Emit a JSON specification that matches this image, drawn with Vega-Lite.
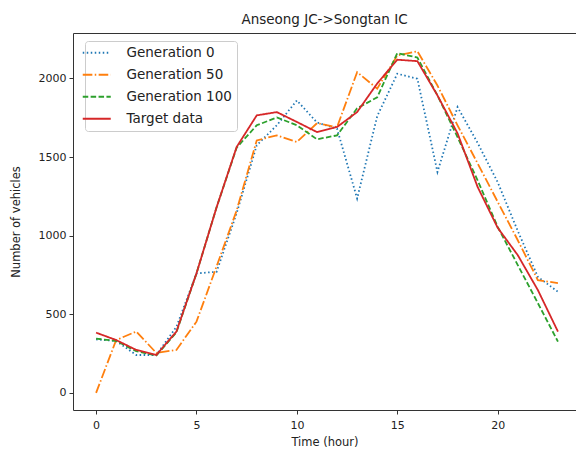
{
  "$schema": "https://vega.github.io/schema/vega-lite/v6.json",
  "width": 503,
  "height": 377,
  "autosize": {"type": "none"},
  "padding": {"left": 73, "top": 33, "right": 0, "bottom": 42},
  "background": "white",
  "config": {
    "font": "DejaVu Sans",
    "view": {"stroke": "#333", "strokeWidth": 1},
    "axis": {
      "grid": false,
      "domain": false,
      "tickColor": "#333",
      "tickSize": 4,
      "labelColor": "#222",
      "labelFontSize": 11,
      "titleColor": "#222",
      "titleFontSize": 11.5,
      "titleFontWeight": "normal"
    }
  },
  "title": {"text": "Anseong JC->Songtan IC", "fontSize": 13.5, "fontWeight": "normal", "color": "#222", "offset": 7},
  "data": {"values": [
    {"h":0,"s":"Generation 0","v":340},{"h":1,"s":"Generation 0","v":330},{"h":2,"s":"Generation 0","v":241},{"h":3,"s":"Generation 0","v":241},{"h":4,"s":"Generation 0","v":420},{"h":5,"s":"Generation 0","v":760},{"h":6,"s":"Generation 0","v":770},{"h":7,"s":"Generation 0","v":1143},{"h":8,"s":"Generation 0","v":1575},{"h":9,"s":"Generation 0","v":1702},{"h":10,"s":"Generation 0","v":1860},{"h":11,"s":"Generation 0","v":1720},{"h":12,"s":"Generation 0","v":1680},{"h":13,"s":"Generation 0","v":1236},{"h":14,"s":"Generation 0","v":1760},{"h":15,"s":"Generation 0","v":2030},{"h":16,"s":"Generation 0","v":1998},{"h":17,"s":"Generation 0","v":1405},{"h":18,"s":"Generation 0","v":1818},{"h":19,"s":"Generation 0","v":1590},{"h":20,"s":"Generation 0","v":1340},{"h":21,"s":"Generation 0","v":1030},{"h":22,"s":"Generation 0","v":738},{"h":23,"s":"Generation 0","v":643},
    {"h":0,"s":"Generation 50","v":0},{"h":1,"s":"Generation 50","v":336},{"h":2,"s":"Generation 50","v":390},{"h":3,"s":"Generation 50","v":254},{"h":4,"s":"Generation 50","v":273},{"h":5,"s":"Generation 50","v":453},{"h":6,"s":"Generation 50","v":804},{"h":7,"s":"Generation 50","v":1160},{"h":8,"s":"Generation 50","v":1606},{"h":9,"s":"Generation 50","v":1638},{"h":10,"s":"Generation 50","v":1596},{"h":11,"s":"Generation 50","v":1715},{"h":12,"s":"Generation 50","v":1690},{"h":13,"s":"Generation 50","v":2040},{"h":14,"s":"Generation 50","v":1935},{"h":15,"s":"Generation 50","v":2146},{"h":16,"s":"Generation 50","v":2173},{"h":17,"s":"Generation 50","v":1955},{"h":18,"s":"Generation 50","v":1702},{"h":19,"s":"Generation 50","v":1460},{"h":20,"s":"Generation 50","v":1215},{"h":21,"s":"Generation 50","v":971},{"h":22,"s":"Generation 50","v":717},{"h":23,"s":"Generation 50","v":698},
    {"h":0,"s":"Generation 100","v":345},{"h":1,"s":"Generation 100","v":330},{"h":2,"s":"Generation 100","v":265},{"h":3,"s":"Generation 100","v":238},{"h":4,"s":"Generation 100","v":385},{"h":5,"s":"Generation 100","v":760},{"h":6,"s":"Generation 100","v":1180},{"h":7,"s":"Generation 100","v":1560},{"h":8,"s":"Generation 100","v":1702},{"h":9,"s":"Generation 100","v":1752},{"h":10,"s":"Generation 100","v":1702},{"h":11,"s":"Generation 100","v":1613},{"h":12,"s":"Generation 100","v":1638},{"h":13,"s":"Generation 100","v":1810},{"h":14,"s":"Generation 100","v":1880},{"h":15,"s":"Generation 100","v":2161},{"h":16,"s":"Generation 100","v":2133},{"h":17,"s":"Generation 100","v":1892},{"h":18,"s":"Generation 100","v":1627},{"h":19,"s":"Generation 100","v":1352},{"h":20,"s":"Generation 100","v":1056},{"h":21,"s":"Generation 100","v":813},{"h":22,"s":"Generation 100","v":571},{"h":23,"s":"Generation 100","v":326},
    {"h":0,"s":"Target data","v":383},{"h":1,"s":"Target data","v":336},{"h":2,"s":"Target data","v":273},{"h":3,"s":"Target data","v":241},{"h":4,"s":"Target data","v":390},{"h":5,"s":"Target data","v":760},{"h":6,"s":"Target data","v":1180},{"h":7,"s":"Target data","v":1564},{"h":8,"s":"Target data","v":1765},{"h":9,"s":"Target data","v":1786},{"h":10,"s":"Target data","v":1723},{"h":11,"s":"Target data","v":1659},{"h":12,"s":"Target data","v":1691},{"h":13,"s":"Target data","v":1786},{"h":14,"s":"Target data","v":1968},{"h":15,"s":"Target data","v":2119},{"h":16,"s":"Target data","v":2110},{"h":17,"s":"Target data","v":1892},{"h":18,"s":"Target data","v":1651},{"h":19,"s":"Target data","v":1310},{"h":20,"s":"Target data","v":1050},{"h":21,"s":"Target data","v":876},{"h":22,"s":"Target data","v":654},{"h":23,"s":"Target data","v":390}
  ]},
  "mark": {"type": "line", "strokeWidth": 1.8, "strokeCap": "butt", "clip": true},
  "encoding": {
    "x": {"field": "h", "type": "quantitative", "title": "Time (hour)",
      "scale": {"domain": [-1.15, 23.9], "nice": false, "zero": false},
      "axis": {"values": [0, 5, 10, 15, 20], "titlePadding": 6, "labelPadding": 5}},
    "y": {"field": "v", "type": "quantitative", "title": "Number of vehicles",
      "scale": {"domain": [-109, 2289], "nice": false, "zero": false},
      "axis": {"values": [0, 500, 1000, 1500, 2000], "format": "d", "titlePadding": 17, "labelPadding": 3}},
    "color": {"field": "s", "type": "nominal",
      "scale": {"domain": ["Generation 0", "Generation 50", "Generation 100", "Target data"], "range": ["#1f77b4", "#ff7f0e", "#2ca02c", "#d62728"]},
      "legend": {"title": null, "orient": "none", "legendX": 12, "legendY": 8,
        "fillColor": "white", "strokeColor": "#ccc", "cornerRadius": 3, "padding": 5,
        "symbolType": "M-2.8,0H2.8", "symbolSize": 100, "symbolStrokeWidth": 1.8,
        "labelFontSize": 13.5, "labelColor": "#222", "labelOffset": 23, "rowPadding": 7,
        "offset": 0}},
    "strokeDash": {"field": "s", "type": "nominal",
      "scale": {"domain": ["Generation 0", "Generation 50", "Generation 100", "Target data"], "range": [[1.5, 2.5], [9.6, 2.4, 1.5, 2.4], [5.5, 2.4], [1, 0]]},
      "legend": null}
  }
}
